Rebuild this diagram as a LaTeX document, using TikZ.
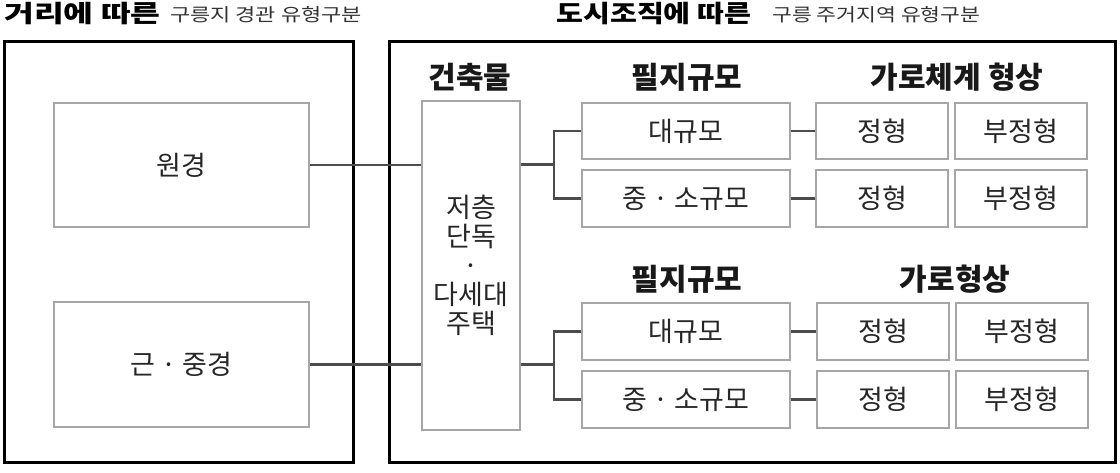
\documentclass[tikz,border=0pt]{standalone}
\usepackage{graphicx}
\usepackage{fontspec}
\setmainfont{Noto Sans CJK KR}
\usetikzlibrary{positioning}

\begin{document}
\begin{tikzpicture}[
  x=1pt, y=-1pt,
  frame/.style={draw=black, line width=3pt},
  cell/.style={draw=black!35, line width=2pt, fill=white, align=center, text=black!85,
    font=\fontsize{27}{29}\selectfont, inner sep=0pt},
  head/.style={font=\fontsize{30}{32}\selectfont\bfseries, text=black!90},
  title/.style={anchor=base west, inner sep=0pt, font=\fontsize{24}{28}\selectfont\bfseries},
  subtitle/.style={anchor=base west, inner sep=0pt, text=black!80, font=\fontsize{18}{22}\selectfont},
  link/.style={draw=black!70, line width=2.2pt}]
\useasboundingbox (0,0) rectangle (1120,472);
% titles
\node[title] (ttlL) at (4,22) {\scalebox{1.35}[1]{거리에 따른}};
\node[subtitle] (subL) at (170,21) {\scalebox{1.22}[1]{구릉지 경관 유형구분}};
\node[title] (ttlR) at (556,22) {\scalebox{1.22}[1]{도시조직에 따른}};
\node[subtitle] (subR) at (772,21) {\scalebox{1.2}[1]{구릉 주거지역 유형구분}};
% outer frames
\node[frame, minimum width=349pt, minimum height=421pt] (zoneL) at (178.5,251.5) {};
\node[frame, minimum width=726pt, minimum height=421pt] (zoneR) at (752,251.5) {};
% landscape distance
\node[cell, minimum width=255pt, minimum height=124pt] (far) at (181,165) {원경};
\node[cell, minimum width=255pt, minimum height=125pt] (near) at (181,364.5) {근 · 중경};
% building type
\node[head] (hBldg) at (470,77) {건축물};
\node[cell, minimum width=98pt, minimum height=329pt] (bldg) at (471,265.5) {저층\\단독\\·\\다세대\\주택};
% lot size, upper group
\node[head] (hLot1) at (687,77) {필지규모};
\node[head] (hStr1) at (957,77) {가로체계 형상};
\node[cell, minimum width=208pt, minimum height=56pt] (big1) at (686,131) {대규모};
\node[cell, minimum width=208pt, minimum height=57pt] (small1) at (686,198.5) {중 · 소규모};
\node[cell, minimum width=132pt, minimum height=56pt] (reg1) at (882,131) {정형};
\node[cell, minimum width=132pt, minimum height=56pt] (irr1) at (1021,131) {부정형};
\node[cell, minimum width=132pt, minimum height=57pt] (reg2) at (882,198.5) {정형};
\node[cell, minimum width=132pt, minimum height=57pt] (irr2) at (1021,198.5) {부정형};
% lot size, lower group
\node[head] (hLot2) at (687,279) {필지규모};
\node[head] (hStr2) at (955,279) {가로형상};
\node[cell, minimum width=208pt, minimum height=57pt] (big2) at (686,331.5) {대규모};
\node[cell, minimum width=208pt, minimum height=57pt] (small2) at (686,399.5) {중 · 소규모};
\node[cell, minimum width=132pt, minimum height=57pt] (reg3) at (883,331.5) {정형};
\node[cell, minimum width=132pt, minimum height=57pt] (irr3) at (1022,331.5) {부정형};
\node[cell, minimum width=132pt, minimum height=57pt] (reg4) at (883,399.5) {정형};
\node[cell, minimum width=132pt, minimum height=57pt] (irr4) at (1022,399.5) {부정형};
% connectors
\coordinate (fork1) at (554,164.5);
\coordinate (fork2) at (554,364.5);
\draw[link] (far.east) -- (far.east -| bldg.west);
\draw[link] (near.east) -- (near.east -| bldg.west);
\draw[link] (fork1 -| bldg.east) -- (fork1);
\draw[link] (fork2 -| bldg.east) -- (fork2);
\draw[link] (big1.west) -| (fork1);
\draw[link] (small1.west) -| (fork1);
\draw[link] (big2.west) -| (fork2);
\draw[link] (small2.west) -| (fork2);
\draw[link] (big1) -- (reg1);
\draw[link] (small1) -- (reg2);
\draw[link] (big2) -- (reg3);
\draw[link] (small2) -- (reg4);
\end{tikzpicture}
\end{document}
